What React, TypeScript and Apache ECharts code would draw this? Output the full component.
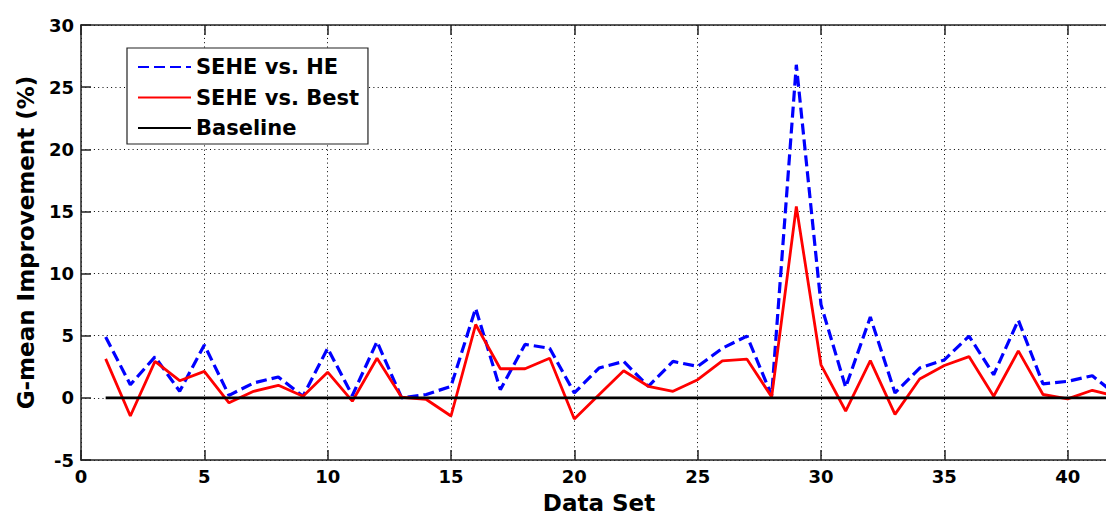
import React, { useEffect, useRef } from "react";
import * as echarts from "echarts";

const dataSets: number[] = Array.from({ length: 42 }, (_, i) => i + 1);

const seheVsHE: number[] = [
  4.9, 1.06, 3.3, 0.53, 4.26, 0.2, 1.2, 1.68, 0.13, 3.99,
  0.19, 4.52, 0.0, 0.27, 0.93, 7.2, 0.66, 4.3, 3.99, 0.4,
  2.4, 2.93, 0.93, 2.93, 2.53, 3.99, 4.97, 0.19, 26.8, 7.5,
  0.85, 6.5, 0.4, 2.4, 3.05, 4.97, 1.86, 6.25, 1.12, 1.33,
  1.78, 0.2,
];

const seheVsBest: number[] = [
  3.14, -1.46, 2.93, 1.38, 2.13, -0.4, 0.53, 1.01, 0.13, 2.07,
  -0.27, 3.19, 0.05, -0.13, -1.46, 5.9, 2.34, 2.34, 3.19, -1.7,
  0.25, 2.18, 0.93, 0.53, 1.46, 2.98, 3.11, 0.08, 15.4, 2.66,
  -1.06, 3.0, -1.33, 1.52, 2.6, 3.32, 0.13, 3.78, 0.27, -0.08,
  0.61, 0.1,
];

const baseline: number[] = dataSets.map(() => 0);

const seriesNames = ["SEHE vs. HE", "SEHE vs. Best", "Baseline"];
const xTitle = "Data Set";
const yTitle = "G-mean Improvement (%)";

const FONT = "DejaVu Sans";

export default function App() {
  const ref = useRef<HTMLDivElement>(null);

  useEffect(() => {
    if (!ref.current) return;
    const chart = echarts.init(ref.current, null, { renderer: "svg" });
    const pair = (ys: number[]) => dataSets.map((x, i) => [x, ys[i]]);
    const gridLine = { show: true, lineStyle: { color: "#000", width: 1, type: [1, 3.3] as any } };
    const frame = { show: true, onZero: false, lineStyle: { color: "#222", width: 1.5 } };
    const tick = { show: true, inside: true, length: 10, lineStyle: { color: "#222", width: 1.5 } };

    chart.setOption({
      animation: false,
      backgroundColor: "#fff",
      grid: { left: 81, top: 25, right: 23, bottom: 57, containLabel: false },
      legend: {
        left: 127,
        top: 48,
        orient: "vertical",
        data: seriesNames,
        backgroundColor: "#fff",
        borderColor: "#222",
        borderWidth: 1.2,
        borderRadius: 0,
        padding: [7, 9, 4, 10],
        itemWidth: 53,
        itemHeight: 14,
        itemGap: 6.5,
        itemStyle: { opacity: 0 },
        textStyle: { fontFamily: FONT, fontWeight: "bold", fontSize: 21, color: "#000", lineHeight: 24 },
      },
      xAxis: [
        {
          type: "value",
          min: 0,
          max: 42,
          interval: 5,
          position: "bottom",
          name: xTitle,
          nameLocation: "middle",
          nameGap: 31,
          nameTextStyle: { fontFamily: FONT, fontWeight: "bold", fontSize: 23, color: "#000" },
          axisLine: frame,
          axisTick: tick,
          splitLine: gridLine,
          axisLabel: { fontFamily: FONT, fontWeight: "bold", fontSize: 18, color: "#000", margin: 7, showMaxLabel: false },
        },
        {
          type: "value",
          min: 0,
          max: 42,
          interval: 5,
          position: "top",
          axisLine: frame,
          axisTick: tick,
          splitLine: { show: false },
          axisLabel: { show: false },
        },
      ],
      yAxis: [
        {
          type: "value",
          min: -5,
          max: 30,
          interval: 5,
          position: "left",
          name: yTitle,
          nameLocation: "middle",
          nameGap: 44,
          nameTextStyle: { fontFamily: FONT, fontWeight: "bold", fontSize: 23, color: "#000" },
          axisLine: frame,
          axisTick: tick,
          splitLine: gridLine,
          axisLabel: { fontFamily: FONT, fontWeight: "bold", fontSize: 18, color: "#000", margin: 7 },
        },
        {
          type: "value",
          min: -5,
          max: 30,
          interval: 5,
          position: "right",
          axisLine: frame,
          axisTick: tick,
          splitLine: { show: false },
          axisLabel: { show: false },
        },
      ],
      series: [
        {
          name: seriesNames[0],
          type: "line",
          data: pair(seheVsHE),
          symbol: "none",
          lineStyle: { color: "#0000ff", width: 3.2, type: [11, 5] as any },
          itemStyle: { color: "#0000ff" },
          z: 3,
        },
        {
          name: seriesNames[1],
          type: "line",
          data: pair(seheVsBest),
          symbol: "none",
          lineStyle: { color: "#ff0000", width: 2.8, type: "solid" },
          itemStyle: { color: "#ff0000" },
          z: 4,
        },
        {
          name: seriesNames[2],
          type: "line",
          data: pair(baseline),
          symbol: "none",
          lineStyle: { color: "#000", width: 2.6, type: "solid" },
          itemStyle: { color: "#000" },
          z: 5,
        },
      ],
    });
    return () => chart.dispose();
  }, []);

  return (
    <div style={{ position: "fixed", left: 0, top: 0, width: 1106, height: 519, overflow: "hidden", background: "#fff" }}>
      <div ref={ref} style={{ width: 1140, height: 519 }} />
    </div>
  );
}
